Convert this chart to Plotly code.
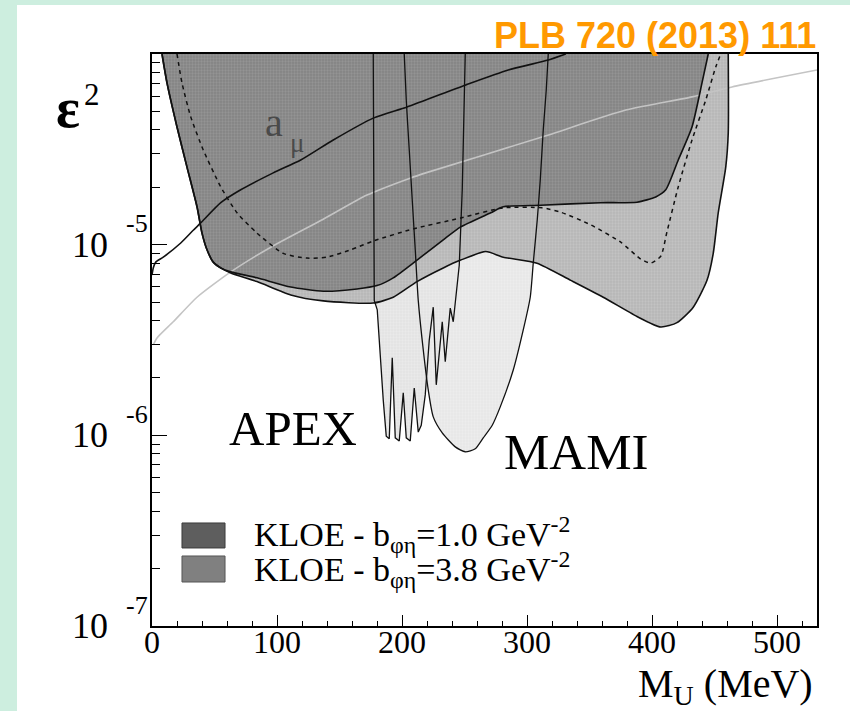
import plotly.graph_objects as go

# ---------------- data (M_U in MeV, epsilon^2) ----------------
kloe10_mass = [8, 12, 20, 28, 36, 40, 44, 49, 55, 63, 84, 111, 137, 164, 180, 193, 212, 233, 247, 271,
               281, 311, 359, 388, 403, 411, 421, 432, 440, 445]
kloe10_eps = [1.0e-4, 7.05e-5, 4.14e-5, 2.55e-5, 1.58e-5, 1.15e-5, 9.4e-6, 8.1e-6, 7.55e-6, 7.2e-6,
              6.7e-6, 6.0e-6, 5.7e-6, 5.86e-6, 6.1e-6, 6.7e-6, 8.3e-6, 1.06e-5, 1.24e-5, 1.47e-5,
              1.58e-5, 1.61e-5, 1.66e-5, 1.67e-5, 1.78e-5, 1.94e-5, 2.78e-5, 4.14e-5, 7.05e-5, 1.0e-4]

kloe38_mass = [8, 12, 20, 28, 36, 40, 44, 49, 55, 63, 84, 111, 137, 177, 193, 212, 233, 247, 267, 281,
               308, 335, 361, 388, 407, 420, 433, 444, 449, 453, 459, 461, 461]
kloe38_eps = [1.0e-4, 7.05e-5, 4.14e-5, 2.55e-5, 1.58e-5, 1.15e-5, 9.4e-6, 8.1e-6, 7.55e-6, 7.1e-6,
              6.4e-6, 5.45e-6, 5.07e-6, 4.94e-6, 5.3e-6, 6.4e-6, 7.55e-6, 8.3e-6, 9.2e-6, 8.6e-6,
              8.0e-6, 6.5e-6, 5.3e-6, 4.2e-6, 3.7e-6, 3.9e-6, 4.7e-6, 6.5e-6, 9.0e-6, 1.47e-5,
              2.55e-5, 3.85e-5, 1.0e-4]

dash_mass = [20, 24, 31, 41, 55, 68, 84, 105, 124, 140, 159, 177, 209, 247, 281, 312, 327, 351, 375, 391,
             399, 407, 412, 421, 432, 443, 451, 455]
dash_eps = [1.0e-4, 7.05e-5, 4.68e-5, 3.14e-5, 2.01e-5, 1.47e-5, 1.15e-5, 9.0e-6, 8.5e-6, 8.6e-6,
            9.4e-6, 1.045e-5, 1.21e-5, 1.38e-5, 1.56e-5, 1.56e-5, 1.48e-5, 1.27e-5, 1.03e-5, 8.4e-6,
            8.0e-6, 8.7e-6, 1.17e-5, 2.01e-5, 3.54e-5, 5.74e-5, 8.55e-5, 1.0e-4]

amu_mass = [0, 1, 3, 9, 23, 33, 39, 55, 71, 97, 119, 145, 177, 204, 251, 285, 317, 331]
amu_eps = [6.93e-6, 7.55e-6, 8.1e-6, 8.6e-6, 1.02e-5, 1.19e-5, 1.30e-5, 1.66e-5, 1.94e-5, 2.38e-5,
           2.78e-5, 3.54e-5, 4.61e-5, 5.27e-5, 6.88e-5, 8.24e-5, 9.3e-5, 1.0e-4]

gray_mass = [1, 4, 17, 36, 63, 95, 137, 172, 207, 219, 312, 379, 432, 464, 532]
gray_eps = [2.98e-6, 3.24e-6, 3.94e-6, 5.3e-6, 7.2e-6, 9.7e-6, 1.36e-5, 1.82e-5, 2.24e-5, 2.38e-5,
            3.67e-5, 5.08e-5, 5.96e-5, 6.72e-5, 8.24e-5]

mami_mass = [201.8, 203.4, 205.8, 208.2, 210.6, 213.0, 217.0, 221.0, 225.0, 232.2, 242.6, 250.6, 258.6,
             265.0, 272.2, 278.6, 289.0, 297.0, 302.6, 305.0, 308.2, 310.6, 313.0, 315.4, 317.0]
mami_eps = [1.0e-4, 5.74e-5, 3.14e-5, 1.71e-5, 9.4e-6, 5.1e-6, 2.81e-6, 1.73e-6, 1.25e-6, 1.03e-6,
            8.7e-7, 8.2e-7, 8.5e-7, 9.7e-7, 1.13e-6, 1.41e-6, 2.2e-6, 3.57e-6, 5.3e-6, 8.0e-6,
            1.35e-5, 2.18e-5, 3.99e-5, 6.47e-5, 1.0e-4]

apex_mass = [177.0, 177.8, 180.2, 182.6, 185.0, 187.4, 189.8, 192.2, 194.6, 197.8, 201.0, 203.4, 206.6,
             209.8, 213.0, 215.4, 218.6, 221.8, 225.0, 227.4, 229.8, 232.2, 234.6, 237.0, 238.6, 241.0,
             243.4, 245.8, 248.2, 250.6]
apex_eps = [1.0e-4, 5.1e-6, 4.55e-6, 2.48e-6, 1.53e-6, 9.9e-7, 9.6e-7, 2.55e-6, 9.7e-7, 9.35e-7,
            1.67e-6, 9.7e-7, 9.35e-7, 1.77e-6, 1.04e-6, 1.13e-6, 1.63e-6, 3.16e-6, 4.7e-6, 1.84e-6,
            2.81e-6, 3.94e-6, 2.43e-6, 3.57e-6, 4.65e-6, 3.94e-6, 5.8e-6, 7.8e-6, 1.94e-5, 1.0e-4]

x_major = [0, 100, 200, 300, 400, 500]
x_minor = [v for v in range(20, 540, 20) if v % 100 != 0]
y_major = [1e-7, 1e-6, 1e-5, 1e-4]
y_minor = [m * 10.0 ** e for e in (-7, -6, -5) for m in range(2, 10)]
y_exponents = [-5, -6, -7]

legend_labels = ["KLOE - b<sub>φη</sub>=1.0 GeV<sup>-2</sup>",
                 "KLOE - b<sub>φη</sub>=3.8 GeV<sup>-2</sup>"]

# ---------------- figure ----------------
SERIF = "Liberation Serif, Times New Roman, serif"
fig = go.Figure()


def region(x, y, color, pat):
    fig.add_trace(go.Scatter(x=x, y=y, mode="lines", fill="toself", fillcolor=color,
                             fillpattern=dict(shape=".", bgcolor=color, fgcolor=pat, size=3, solidity=0.45),
                             line=dict(width=0), hoverinfo="skip"))


def curve(x, y, color="#111111", width=1.6, dash="solid"):
    fig.add_trace(go.Scatter(x=x, y=y, mode="lines",
                             line=dict(color=color, width=width, dash=dash, shape="spline", smoothing=0.6),
                             hoverinfo="skip"))


region(mami_mass, mami_eps, "#e6e6e6", "#f4f4f4")
region(apex_mass, apex_eps, "#e2e2e2", "#f2f2f2")
region(kloe38_mass, kloe38_eps, "#b6b6b6", "#cfcfcf")
region(kloe10_mass, kloe10_eps, "#838383", "#a6a6a6")

curve(gray_mass, gray_eps, color="#c4c4c4", width=1.6)
curve(kloe38_mass, kloe38_eps)
curve(kloe10_mass, kloe10_eps)
curve(dash_mass, dash_eps, width=1.5, dash="4px,4px")
fig.add_trace(go.Scatter(x=mami_mass, y=mami_eps, mode="lines",
                         line=dict(color="#111111", width=1.3, shape="spline", smoothing=0.6),
                         hoverinfo="skip"))
fig.add_trace(go.Scatter(x=apex_mass, y=apex_eps, mode="lines",
                         line=dict(color="#111111", width=1.3), hoverinfo="skip"))
curve(amu_mass, amu_eps, width=1.6)

axis_common = dict(showline=True, linecolor="black", linewidth=1.5, mirror=True,
                   showgrid=False, zeroline=False, ticks="inside", tickcolor="black", tickwidth=1.3)

fig.update_layout(
    width=850, height=711,
    margin=dict(l=152, r=33, t=54, b=85),
    paper_bgcolor="#cdeedf", plot_bgcolor="white",
    showlegend=False,
    xaxis=dict(range=[0, 532], tickmode="array", tickvals=x_major, ticklen=11,
               ticklabelstandoff=-13,
               tickfont=dict(family=SERIF, size=32, color="black"),
               minor=dict(tickmode="array", tickvals=x_minor, ticks="inside", ticklen=5,
                          tickcolor="black", tickwidth=1.2, showgrid=False),
               **axis_common),
    yaxis=dict(type="log", range=[-7, -4], tickmode="array", tickvals=y_major, ticklen=15,
               showticklabels=False,
               minor=dict(tickmode="array", tickvals=y_minor, ticks="inside", ticklen=8,
                          tickcolor="black", tickwidth=1.2, showgrid=False),
               **axis_common),
)

# white slide panel behind the chart
fig.add_shape(type="rect", xref="paper", yref="paper", x0=-0.2030, x1=1.06, y0=-0.16, y1=1.0857,
              fillcolor="white", line=dict(width=0), layer="below")

# legend swatches
fig.add_shape(type="rect", xref="paper", yref="paper", x0=0.0451, x1=0.1098, y0=0.1364, y1=0.1801,
              fillcolor="#5e5e5e", line=dict(color="#3c3c3c", width=1))
fig.add_shape(type="rect", xref="paper", yref="paper", x0=0.0451, x1=0.1098, y0=0.0769, y1=0.1224,
              fillcolor="#808080", line=dict(color="#555555", width=1))

ann = []
for lab, yp in zip(legend_labels, [0.160, 0.098]):
    ann.append(dict(text=lab, xref="paper", yref="paper", x=0.1504, y=yp, xanchor="left",
                    yanchor="middle", showarrow=False, font=dict(family=SERIF, size=34, color="black")))

for e in y_exponents:
    ann.append(dict(text="10", xref="paper", yref="y", x=-0.0932, y=e, xanchor="center",
                    yanchor="middle", showarrow=False, font=dict(family=SERIF, size=36, color="black")))
    ann.append(dict(text=str(e), xref="paper", yref="y", x=-0.0226, y=e, yshift=21, xanchor="center",
                    yanchor="middle", showarrow=False, font=dict(family=SERIF, size=26, color="black")))

ann += [
    dict(text="<b>ε</b>", xref="paper", yref="paper", x=-0.1263, y=0.905, xanchor="center",
         yanchor="middle", showarrow=False, font=dict(family=SERIF, size=56, color="black")),
    dict(text="2", xref="paper", yref="paper", x=-0.0905, y=0.930, xanchor="center",
         yanchor="middle", showarrow=False, font=dict(family=SERIF, size=31, color="black")),
    dict(text="<b>PLB 720 (2013) 111</b>", xref="paper", yref="paper", x=1.0015, y=1.033,
         xanchor="right", yanchor="middle", showarrow=False,
         font=dict(family="Liberation Sans, Arial, sans-serif", size=36, color="#ff9900")),
    dict(text="M<sub>U</sub> (MeV)", xref="paper", yref="paper", x=0.997, y=-0.105,
         xanchor="right", yanchor="middle", showarrow=False,
         font=dict(family=SERIF, size=40, color="black")),
    dict(text="APEX", xref="x", yref="y", x=113, y=-5.963, xanchor="center", yanchor="middle",
         showarrow=False, font=dict(family=SERIF, size=49, color="black")),
    dict(text="MAMI", xref="x", yref="y", x=339.4, y=-6.087, xanchor="center", yanchor="middle",
         showarrow=False, font=dict(family=SERIF, size=51, color="black")),
    dict(text="a", xref="x", yref="y", x=97.8, y=-4.357, xanchor="center", yanchor="middle",
         showarrow=False, font=dict(family=SERIF, size=40, color="#4a4a4a")),
    dict(text="μ", xref="x", yref="y", x=116.2, y=-4.467, xanchor="center", yanchor="middle",
         showarrow=False, font=dict(family=SERIF, size=27, color="#4a4a4a")),
]
fig.update_layout(annotations=ann)

fig.write_html("out.html")
